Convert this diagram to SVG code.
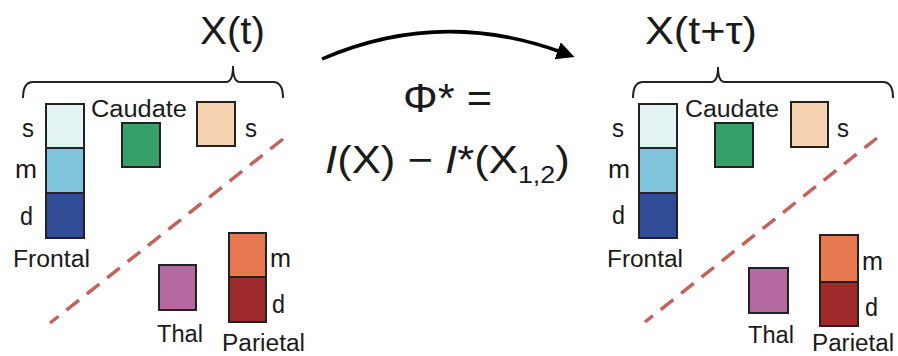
<svg xmlns="http://www.w3.org/2000/svg" width="898" height="356" viewBox="0 0 898 356">
<style>
text{font-family:"Liberation Sans",Arial,Helvetica,sans-serif;fill:#1a1a1a}
.lab{font-size:23px}
.sml{font-size:25px}
.ttl{font-size:38px}
.box{stroke:#222;stroke-width:2}
.brace{fill:none;stroke:#222;stroke-width:2}
.div{fill:none;stroke:#c4625c;stroke-width:3.5;stroke-dasharray:16 10}
.arrow{fill:none;stroke:#000;stroke-width:3.5}
.fs{fill:#e3f3f3}.fm{fill:#7fc4da}.fd{fill:#2f4c95}
.cau{fill:#35a068}.ps{fill:#f6d4b2}.th{fill:#b46aa0}
.pm{fill:#e8784f}.pd{fill:#9f2a2b}
</style>
<defs>
<marker id="ah" viewBox="0 0 10 10" refX="2" refY="5" markerWidth="18" markerHeight="20" markerUnits="userSpaceOnUse" orient="auto">
<path d="M0,0 L10,5 L0,10 z" fill="#000"/>
</marker>
</defs>

<!-- LEFT PANEL -->
<g id="left-title"><text class="ttl" x="200" y="44" textLength="65" lengthAdjust="spacingAndGlyphs">X(t)</text></g>
<g id="left-brace"><path class="brace" d="M23,98 Q23,82 33,82 L226,82 Q233,82 233,66 Q233,82 240,82 L273,82 Q283,82 283,98"/></g>
<g id="left-frontal">
<rect class="box fs" x="46" y="104" width="38" height="44"/>
<rect class="box fm" x="46" y="148" width="38" height="45"/>
<rect class="box fd" x="46" y="193" width="38" height="45"/>
<text class="sml" x="22" y="137" textLength="12" lengthAdjust="spacingAndGlyphs">s</text>
<text class="sml" x="15" y="178" textLength="22" lengthAdjust="spacingAndGlyphs">m</text>
<text class="sml" x="20" y="225" textLength="13" lengthAdjust="spacingAndGlyphs">d</text>
<text class="lab" x="13" y="267" textLength="77" lengthAdjust="spacingAndGlyphs">Frontal</text>
</g>
<g id="left-caudate">
<text class="lab" x="91" y="117" textLength="96" lengthAdjust="spacingAndGlyphs">Caudate</text>
<rect class="box cau" x="122" y="123" width="38" height="44"/>
</g>
<g id="left-sens">
<rect class="box ps" x="197" y="102" width="38" height="44"/>
<text class="sml" x="245" y="137" textLength="12" lengthAdjust="spacingAndGlyphs">s</text>
</g>
<g id="left-thal">
<rect class="box th" x="159" y="265" width="37" height="45"/>
<text class="lab" x="157" y="342" textLength="46" lengthAdjust="spacingAndGlyphs">Thal</text>
</g>
<g id="left-parietal">
<rect class="box pm" x="229" y="233" width="37" height="44"/>
<rect class="box pd" x="229" y="277" width="37" height="45"/>
<text class="sml" x="270" y="267" textLength="21" lengthAdjust="spacingAndGlyphs">m</text>
<text class="sml" x="272" y="313" textLength="13" lengthAdjust="spacingAndGlyphs">d</text>
<text class="lab" x="222" y="351" textLength="83" lengthAdjust="spacingAndGlyphs">Parietal</text>
</g>

<!-- CENTER -->
<g id="phi-formula">
<text x="403" y="112" font-size="40" textLength="89" lengthAdjust="spacingAndGlyphs">Φ* =</text>
<text transform="translate(325,173) scale(1.12,1)" font-size="39"><tspan font-style="italic">I</tspan>(X) − <tspan font-style="italic">I</tspan>*(X<tspan font-size="24" dy="10">1,2</tspan><tspan dy="-10">)</tspan></text>
</g>

<!-- RIGHT PANEL -->
<g id="right-title"><text class="ttl" x="645" y="44" textLength="112" lengthAdjust="spacingAndGlyphs">X(t+τ)</text></g>
<g id="right-brace"><path class="brace" d="M633,98 Q633,82 643,82 L711,82 Q718,82 718,67 Q718,82 725,82 L883,82 Q893,82 893,98"/></g>
<g id="right-frontal">
<rect class="box fs" x="639" y="104" width="38" height="44"/>
<rect class="box fm" x="639" y="148" width="38" height="45"/>
<rect class="box fd" x="639" y="193" width="38" height="45"/>
<text class="sml" x="612" y="137" textLength="12" lengthAdjust="spacingAndGlyphs">s</text>
<text class="sml" x="608" y="178" textLength="22" lengthAdjust="spacingAndGlyphs">m</text>
<text class="sml" x="612" y="224" textLength="13" lengthAdjust="spacingAndGlyphs">d</text>
<text class="lab" x="607" y="267" textLength="76" lengthAdjust="spacingAndGlyphs">Frontal</text>
</g>
<g id="right-caudate">
<text class="lab" x="685" y="117" textLength="94" lengthAdjust="spacingAndGlyphs">Caudate</text>
<rect class="box cau" x="715" y="123" width="38" height="44"/>
</g>
<g id="right-sens">
<rect class="box ps" x="791" y="102" width="37" height="45"/>
<text class="sml" x="837" y="137" textLength="12" lengthAdjust="spacingAndGlyphs">s</text>
</g>
<g id="right-thal">
<rect class="box th" x="749" y="268" width="39" height="45"/>
<text class="lab" x="748" y="343" textLength="46" lengthAdjust="spacingAndGlyphs">Thal</text>
</g>
<g id="right-parietal">
<rect class="box pm" x="820" y="235" width="38" height="47"/>
<rect class="box pd" x="820" y="282" width="38" height="44"/>
<text class="sml" x="862" y="270" textLength="21" lengthAdjust="spacingAndGlyphs">m</text>
<text class="sml" x="865" y="316" textLength="13" lengthAdjust="spacingAndGlyphs">d</text>
<text class="lab" x="812" y="351" textLength="82" lengthAdjust="spacingAndGlyphs">Parietal</text>
</g>

<!-- CONNECTORS -->
<g id="connectors">
<path class="arrow" d="M322,59 Q440,8 561,52" marker-end="url(#ah)"/>
<line class="div" x1="283" y1="139" x2="50" y2="323"/>
<line class="div" x1="877" y1="138" x2="645" y2="322"/>
</g>
</svg>
